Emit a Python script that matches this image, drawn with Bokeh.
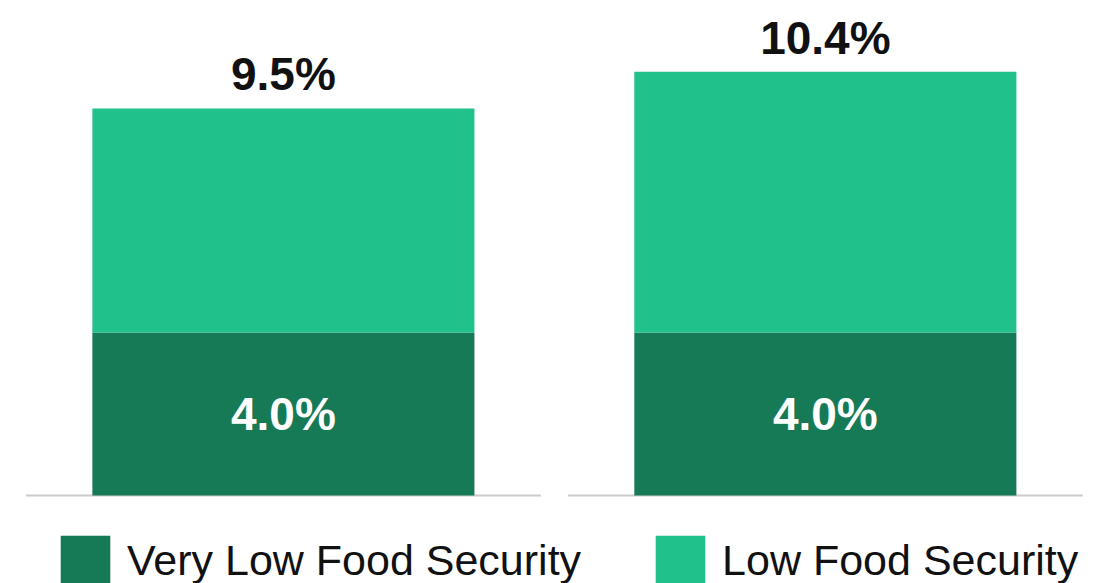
from bokeh.plotting import figure
from bokeh.models import ColumnDataSource, Legend, LegendItem, Range1d
from bokeh.core.properties import value
from bokeh.embed import file_html
from bokeh.resources import INLINE

categories = ["Group A", "Group B"]
very_low = [4.0, 4.0]
total = [9.5, 10.4]
series_names = ["Very Low Food Security", "Low Food Security"]
colors = ["#177a56", "#20c18a"]

xpos = list(range(len(categories)))
low = [t - v for t, v in zip(total, very_low)]

src = ColumnDataSource(dict(
    x=xpos, very_low=very_low, total=total, low=low,
    vl_label=[f"{v:.1f}%" for v in very_low],
    tot_label=[f"{t:.1f}%" for t in total],
    zero=[0.0] * len(xpos),
))

p = figure(width=1111, height=583, output_backend="svg", toolbar_location=None,
           x_range=Range1d(-0.522, 1.528), y_range=Range1d(-2.16, 12.15),
           min_border=0, outline_line_color=None)
p.axis.visible = False
p.grid.visible = False
p.background_fill_color = "white"
p.border_fill_color = "white"

# baseline segments per category
p.rect(x="x", y="zero", width=0.95, height=2, width_units="data", height_units="screen",
       source=src, fill_color="#cccccc", line_color=None)

r1 = p.vbar(x="x", bottom=0, top="very_low", width=0.705, source=src,
            fill_color=colors[0], line_color=None)
r2 = p.vbar(x="x", bottom="very_low", top="total", width=0.705, source=src,
            fill_color=colors[1], line_color=None)

p.text(x="x", y="total", text="tot_label", source=src, text_align="center",
       text_baseline="alphabetic", y_offset=-34, text_font=value("Liberation Sans"),
       text_font_size="46px", text_font_style="bold", text_color="#111111")
p.text(x="x", y=2.0, text="vl_label", source=src, text_align="center",
       text_baseline="middle", text_font=value("Liberation Sans"),
       text_font_size="46px", text_font_style="bold", text_color="white")

legend = Legend(items=[LegendItem(label=series_names[0], renderers=[r1]),
                       LegendItem(label=series_names[1], renderers=[r2])],
                orientation="horizontal", location=(54, -8),
                glyph_width=62, glyph_height=62, label_standoff=11, spacing=68,
                padding=0, margin=0, border_line_color=None, background_fill_alpha=0,
                label_text_font="Liberation Sans", label_text_font_size="43px",
                label_text_color="#111111")
p.add_layout(legend, "center")

open("out.html", "w").write(file_html(p, INLINE))
